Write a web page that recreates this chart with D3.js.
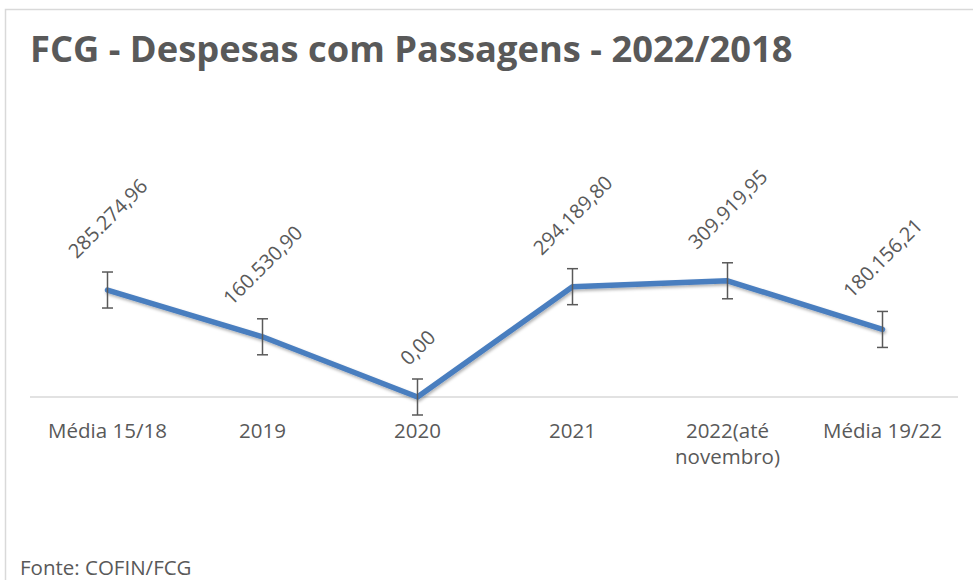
<!DOCTYPE html>
<html>
<head>
<meta charset="utf-8">
<script src="https://cdn.jsdelivr.net/npm/d3@7"></script>
<style>
  body { margin: 0; background: #fff; }
  text { font-family: "Open Sans", "Noto Sans", sans-serif; fill: #595959; }
</style>
</head>
<body>
<div id="chart"></div>
<script>
// chart data
let categories = ["Média 15/18", "2019", "2020", "2021", "2022(até novembro)", "Média 19/22"];
let categoryLines = [["Média 15/18"], ["2019"], ["2020"], ["2021"], ["2022(até", "novembro)"], ["Média 19/22"]];
let values = [285274.96, 160530.90, 0.00, 294189.80, 309919.95, 180156.21];
let labels = ["285.274,96", "160.530,90", "0,00", "294.189,80", "309.919,95", "180.156,21"];
let errorAmount = 48000;

let width = 973, height = 580;

let svg = d3.select("#chart").append("svg")
  .attr("width", width)
  .attr("height", height);

// drop shadow under the line, Excel style
let defs = svg.append("defs");
defs.append("filter")
  .attr("id", "shadow")
  .attr("x", "-10%").attr("y", "-10%")
  .attr("width", "120%").attr("height", "130%")
  .append("feDropShadow")
  .attr("dx", 1).attr("dy", 2)
  .attr("stdDeviation", 1.5)
  .attr("flood-color", "#000")
  .attr("flood-opacity", 0.3);

// chart border
svg.append("rect")
  .attr("x", 5.5).attr("y", 9.5)
  .attr("width", 1000).attr("height", 1000)
  .attr("fill", "none")
  .attr("stroke", "#d9d9d9")
  .attr("stroke-width", 1.5);

let xScale = d3.scaleBand().domain(categories).range([30, 960]);
let yScale = d3.scaleLinear().domain([0, 1000000]).range([397, 22]);

function cx(i) { return xScale(categories[i]) + xScale.bandwidth() / 2; }

// title
svg.append("text")
  .attr("x", 30).attr("y", 62)
  .attr("font-size", 36.3)
  .attr("font-weight", "bold")
  .text("FCG - Despesas com Passagens - 2022/2018");

// category axis line
svg.append("line")
  .attr("x1", 30).attr("x2", 958)
  .attr("y1", yScale(0)).attr("y2", yScale(0))
  .attr("stroke", "#d9d9d9")
  .attr("stroke-width", 1.5);

// category labels
let catGroup = svg.append("g");
categoryLines.forEach(function(lines, i) {
  let t = catGroup.append("text")
    .attr("text-anchor", "middle")
    .attr("font-size", 20.5)
    .attr("y", 438);
  lines.forEach(function(l, j) {
    t.append("tspan")
      .attr("x", cx(i))
      .attr("dy", j == 0 ? 0 : 26)
      .text(l);
  });
});

// the line
let line = d3.line()
  .x(function(d, i) { return cx(i); })
  .y(function(d) { return yScale(d); });

svg.append("path")
  .datum(values)
  .attr("d", line)
  .attr("fill", "none")
  .attr("stroke", "#4a7ebf")
  .attr("stroke-width", 5.5)
  .attr("stroke-linejoin", "round")
  .attr("stroke-linecap", "round")
  .attr("filter", "url(#shadow)");

// error bars
let err = svg.append("g")
  .attr("stroke", "#595959")
  .attr("stroke-width", 1.5);
values.forEach(function(v, i) {
  let top = yScale(v + errorAmount), bot = yScale(v - errorAmount);
  err.append("line").attr("x1", cx(i)).attr("x2", cx(i)).attr("y1", top).attr("y2", bot);
  err.append("line").attr("x1", cx(i) - 5.5).attr("x2", cx(i) + 5.5).attr("y1", top).attr("y2", top);
  err.append("line").attr("x1", cx(i) - 5.5).attr("x2", cx(i) + 5.5).attr("y1", bot).attr("y2", bot);
});

// rotated data labels above each point
values.forEach(function(v, i) {
  let t = svg.append("text")
    .attr("font-size", 20)
    .attr("text-anchor", "middle")
    .attr("dominant-baseline", "central")
    .text(labels[i]);
  let w = t.node().getComputedTextLength();
  let boxH = (w + 22) * Math.SQRT1_2;
  let y = yScale(v) - 28 - boxH / 2;
  t.attr("transform", "translate(" + cx(i) + "," + y + ") rotate(-45)");
});

// source
svg.append("text")
  .attr("x", 20).attr("y", 575)
  .attr("font-size", 20.5)
  .text("Fonte: COFIN/FCG");
</script>
</body>
</html>
